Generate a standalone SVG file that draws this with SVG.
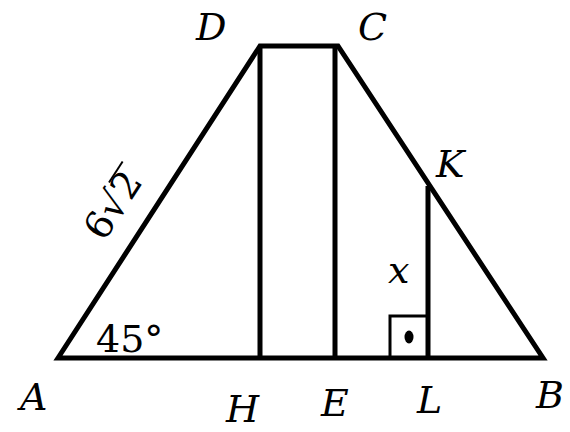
<svg xmlns="http://www.w3.org/2000/svg" width="570" height="432" viewBox="0 0 570 432">
<style>
.ln{stroke:#000;stroke-width:5;fill:none;stroke-linejoin:miter;stroke-linecap:butt}
.lb{font-family:"DejaVu Serif",serif;font-style:italic;font-size:38px;fill:#000}
.num{font-family:"DejaVu Serif",serif;font-size:38px;fill:#000}
</style>
<rect width="570" height="432" fill="#fff"/>
<g id="connectors">
<path class="ln" d="M58,358 L260,46 L338,46 L543,358 Z"/>
<line class="ln" x1="260" y1="46" x2="260" y2="358"/>
<line class="ln" x1="335" y1="46" x2="335" y2="358"/>
<line class="ln" x1="428" y1="186" x2="428" y2="358"/>
<rect x="390" y="316" width="38" height="42" fill="none" stroke="#000" stroke-width="3"/>
<ellipse cx="409" cy="337" rx="4.5" ry="6.5" fill="#000"/>
</g>
<g id="A"><text class="lb" x="20" y="410">A</text></g>
<g id="B"><text class="lb" x="536" y="408">B</text></g>
<g id="C"><text class="lb" x="358" y="40">C</text></g>
<g id="D"><text class="lb" x="196" y="40">D</text></g>
<g id="H"><text class="lb" x="226" y="422">H</text></g>
<g id="E"><text class="lb" x="321" y="416">E</text></g>
<g id="L"><text class="lb" x="417" y="413">L</text></g>
<g id="K"><text class="lb" x="436" y="177">K</text></g>
<g id="x"><text class="lb" x="388" y="283">x</text></g>
<g id="angle"><text class="num" x="96" y="352">45°</text></g>
<g id="side" transform="translate(113,203) rotate(-57)">
<text class="num" x="-38" y="14">6√2</text>
<line x1="15" y1="-14.5" x2="40" y2="-14.5" stroke="#000" stroke-width="2"/>
</g>
</svg>
